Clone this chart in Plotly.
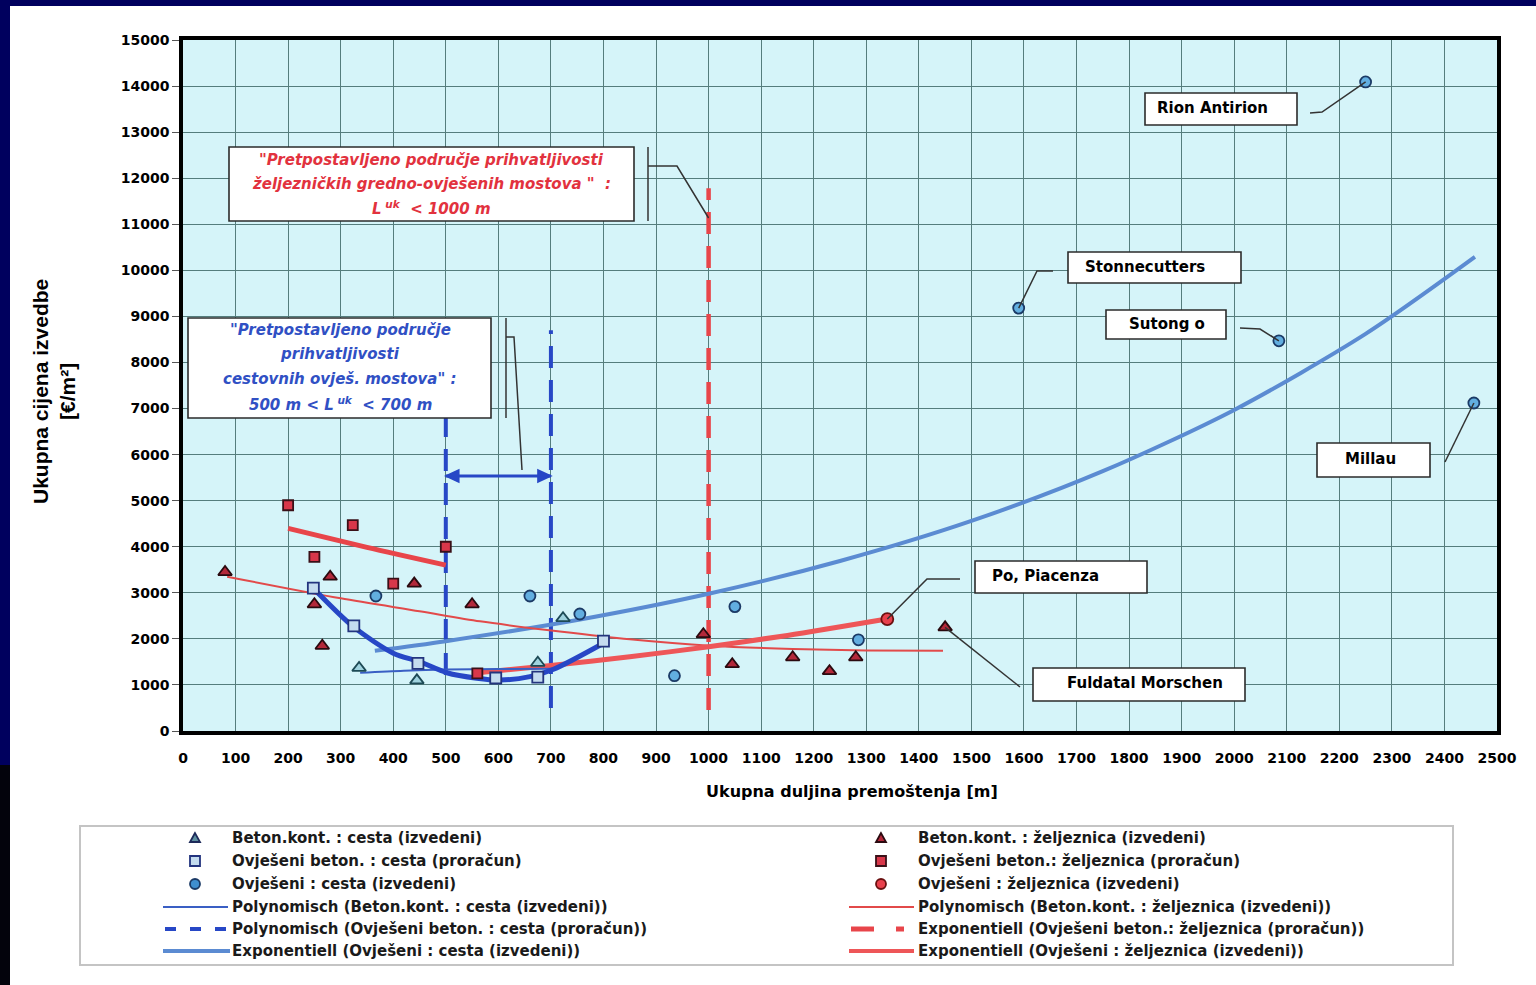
import plotly.graph_objects as go

# ---------------------------------------------------------------- data
# Beton.kont. : cesta (izvedeni)
road_tri_x = [335, 445, 675, 723]
road_tri_y = [1370, 1100, 1480, 2450]
# Ovješeni beton. : cesta (proračun)
road_sq_x = [248, 325, 447, 595, 675, 800]
road_sq_y = [3100, 2280, 1470, 1150, 1170, 1950]
# Ovješeni : cesta (izvedeni)
road_circ_x = [367, 660, 755, 935, 1050, 1285, 1590, 2085, 2250, 2456]
road_circ_y = [2930, 2930, 2540, 1200, 2700, 1980, 9180, 8470, 14090, 7120]

# Beton.kont. : željeznica (izvedeni)
rail_tri_x = [80, 250, 265, 280, 440, 550, 990, 1045, 1160, 1230, 1280, 1450]
rail_tri_y = [3450, 2750, 1850, 3350, 3200, 2750, 2100, 1450, 1600, 1300, 1600, 2250]
# Ovješeni beton.: željeznica (proračun)
rail_sq_x = [200, 250, 323, 400, 500, 560]
rail_sq_y = [4900, 3780, 4470, 3200, 4000, 1250]
# Ovješeni : željeznica (izvedeni)
rail_circ_x = [1340]
rail_circ_y = [2430]

# trend lines
trend_road_tri_x = [337, 420, 500, 600, 703]
trend_road_tri_y = [1265, 1310, 1335, 1345, 1350]
trend_road_sq_x = [248, 324, 400, 451, 502, 559, 603, 660, 705, 800]
trend_road_sq_y = [3100, 2265, 1690, 1500, 1265, 1145, 1105, 1180, 1340, 1905]
trend_road_circ_x = [365, 500, 750, 1000, 1250, 1500, 1750, 2000, 2250, 2458]
trend_road_circ_y = [1740, 1950, 2410, 2980, 3690, 4560, 5640, 6970, 8620, 10290]
trend_rail_tri_x = [84, 300, 450, 565, 717, 850, 1003, 1160, 1300, 1446]
trend_rail_tri_y = [3350, 2880, 2600, 2380, 2160, 1990, 1850, 1780, 1750, 1740]
trend_rail_sq_x = [200, 350, 500]
trend_rail_sq_y = [4400, 3985, 3600]
trend_rail_circ_x = [556, 700, 850, 1000, 1150, 1339]
trend_rail_circ_y = [1260, 1420, 1610, 1830, 2075, 2430]

# acceptance ranges (total length, m)
road_range = [500, 700]
road_range_y = [[1215, 6800], [500, 8700]]
rail_limit = 1000
rail_limit_y = [455, 11780]
arrow_y = 5535

x_ticks = list(range(0, 2501, 100))
y_ticks = list(range(0, 15001, 1000))
X_MAX, Y_MAX = 2500, 15000

# ---------------------------------------------------------------- geometry
W, H = 1536, 985
ML, MR, MT, MB = 183, 39, 40, 254
PW, PH = W - ML - MR, H - MT - MB


def fx(px):
    """figure pixel column -> paper x"""
    return (px - ML) / PW


def fy(py):
    """figure pixel row -> paper y"""
    return (H - MB - py) / PH


def dx(x):
    return x / X_MAX


def dy(y):
    return y / Y_MAX


BLUE_DARK = "#2747c6"
BLUE_THIN = "#3a5fc4"
BLUE_EXP = "#5b8bd2"
RED_THIN = "#e24a4a"
RED_THICK = "#e8454a"
RED_EXP = "#ee5658"
TXT_FONT = "DejaVu Sans, Liberation Sans, Arial, sans-serif"

fig = go.Figure()

# vertical range lines
for xv, (y0, y1) in zip(road_range, road_range_y):
    fig.add_trace(go.Scatter(x=[xv, xv], y=[y0, y1], mode="lines",
                             line=dict(color=BLUE_DARK, width=4, dash="22px,12px"),
                             hoverinfo="skip", showlegend=False))
fig.add_trace(go.Scatter(x=[rail_limit, rail_limit], y=rail_limit_y, mode="lines",
                         line=dict(color=RED_THICK, width=4.5, dash="22px,12px"),
                         hoverinfo="skip", showlegend=False))

# span of the road range (double arrow shaft)
fig.add_trace(go.Scatter(x=road_range, y=[arrow_y, arrow_y], mode="lines",
                         line=dict(color=BLUE_DARK, width=3),
                         hoverinfo="skip", showlegend=False))

# trend lines
trend_specs = [
    (trend_road_circ_x, trend_road_circ_y, BLUE_EXP, 4),
    (trend_rail_tri_x, trend_rail_tri_y, RED_THIN, 2),
    (trend_rail_sq_x, trend_rail_sq_y, RED_THICK, 5),
    (trend_rail_circ_x, trend_rail_circ_y, RED_EXP, 5),
    (trend_road_tri_x, trend_road_tri_y, BLUE_THIN, 2),
    (trend_road_sq_x, trend_road_sq_y, BLUE_DARK, 5),
]
for tx, ty, col, wd in trend_specs:
    fig.add_trace(go.Scatter(x=tx, y=ty, mode="lines",
                             line=dict(color=col, width=wd, shape="spline", smoothing=0.8),
                             hoverinfo="skip", showlegend=False))

# markers
marker_specs = [
    (rail_tri_x, rail_tri_y, "triangle-up", "#b3283a", "#2a0a10", 12),
    (rail_sq_x, rail_sq_y, "square", "#d8374a", "#3a1018", 10),
    (rail_circ_x, rail_circ_y, "circle", "#e8404c", "#6a1010", 12),
    (road_tri_x, road_tri_y, "triangle-up", "#9fd3df", "#1d4a56", 12),
    (road_sq_x, road_sq_y, "square", "#c4dcef", "#23347e", 11),
    (road_circ_x, road_circ_y, "circle", "#62aee0", "#1b3a66", 11),
]
for mx, my, sym, fill, edge, sz in marker_specs:
    fig.add_trace(go.Scatter(x=mx, y=my, mode="markers",
                             marker=dict(symbol=sym, size=sz, color=fill,
                                         line=dict(color=edge, width=1.8)),
                             showlegend=False))

shapes = []
annotations = []

# page frame strips
shapes.append(dict(type="rect", xref="paper", yref="paper", x0=fx(0), x1=fx(10),
                   y0=fy(765), y1=fy(0), fillcolor="#00005e", line_width=0, layer="below"))
shapes.append(dict(type="rect", xref="paper", yref="paper", x0=fx(0), x1=fx(10),
                   y0=fy(985), y1=fy(765), fillcolor="#03030c", line_width=0, layer="below"))
shapes.append(dict(type="rect", xref="paper", yref="paper", x0=fx(0), x1=fx(1536),
                   y0=fy(6), y1=fy(0), fillcolor="#00005e", line_width=0, layer="below"))

EDGE = "#2b2b2b"


def box(px0, py0, px1, py1, width=1.6):
    shapes.append(dict(type="rect", xref="paper", yref="paper",
                       x0=fx(px0), x1=fx(px1), y0=fy(py1), y1=fy(py0),
                       fillcolor="white", line=dict(color=EDGE, width=width), layer="above"))


def poly(points, color="#333333", width=1.5, fill=None):
    path = "M " + " L ".join(f"{x:.6f},{y:.6f}" for x, y in points)
    shp = dict(type="path", xref="paper", yref="paper", path=path,
               line=dict(color=color, width=width), layer="above")
    if fill:
        shp["path"] += " Z"
        shp["fillcolor"] = fill
    shapes.append(shp)


def text(px, py, s, size=15, color="black", anchor="left"):
    annotations.append(dict(xref="paper", yref="paper", x=fx(px), y=fy(py), text=s,
                            showarrow=False, xanchor=anchor, yanchor="middle",
                            font=dict(family=TXT_FONT, size=size, color=color)))


# arrow heads at both ends of the road range
ax0, ax1, ay = dx(road_range[0]), dx(road_range[1]), dy(arrow_y)
hx, hy = 13 / PW, 6 / PH
poly([(ax0, ay), (ax0 + hx, ay + hy), (ax0 + hx, ay - hy)], BLUE_DARK, 1.5, BLUE_DARK)
poly([(ax1, ay), (ax1 - hx, ay + hy), (ax1 - hx, ay - hy)], BLUE_DARK, 1.5, BLUE_DARK)

# acceptance-range callouts
RED_TXT = "#e2323e"
BLUE_TXT = "#3050c4"
box(229, 147, 634, 221)
for yy, s in zip([160, 184, 208], [
        "\"Pretpostavljeno područje prihvatljivosti",
        "željezničkih gredno-ovješenih mostova \"  :",
        "L<sup> uk</sup>  < 1000 m"]):
    text(431, yy, f"<b><i>{s}</i></b>", 15, RED_TXT, "center")
poly([(fx(648), fy(147)), (fx(648), fy(221))])
poly([(fx(648), fy(166)), (fx(677), fy(166)), (dx(rail_limit), fy(218))])

box(188, 318, 491, 418)
for yy, s in zip([330, 354, 379, 404], [
        "\"Pretpostavljeno područje",
        "prihvatljivosti",
        "cestovnih ovješ. mostova\" :",
        "500 m < L<sup> uk</sup>  < 700 m"]):
    text(340, yy, f"<b><i>{s}</i></b>", 15, BLUE_TXT, "center")
poly([(fx(506), fy(318)), (fx(506), fy(418))])
poly([(fx(506), fy(337)), (fx(514), fy(337)), (fx(522), ay + 6 / PH)])

# named bridges
named = [
    ("Rion Antirion", (1145, 93, 1297, 125), 1155, 108,
     [(1310, 113), (1322, 112)], (2250, 14090)),
    ("Stonnecutters", (1068, 252, 1241, 283), 1083, 267,
     [(1053, 271), (1037, 271)], (1590, 9180)),
    ("Sutong o", (1106, 310, 1226, 339), 1127, 324,
     [(1240, 328), (1260, 329)], (2085, 8470)),
    ("Millau", (1317, 443, 1430, 477), 1343, 459,
     [(1445, 462)], (2456, 7120)),
]
for name, (b0, b1, b2, b3), tx, ty, legs, (px_, py_) in named:
    box(b0, b1, b2, b3)
    text(tx, ty, f"<b>{name}</b>", 15)
    poly([(fx(a), fy(b)) for a, b in legs] + [(dx(px_), dy(py_))])

box(975, 561, 1147, 593)
text(990, 576, "<b>Po, Piacenza</b>", 15)
poly([(fx(960), fy(579)), (fx(927), fy(579)), (dx(rail_circ_x[0]), dy(rail_circ_y[0]))])

box(1033, 668, 1245, 701)
text(1065, 683, "<b>Fuldatal Morschen</b>", 15)
poly([(dx(rail_tri_x[-1]), dy(rail_tri_y[-1])), (fx(1020), fy(687))])

# ---------------------------------------------------------------- legend
shapes.append(dict(type="rect", xref="paper", yref="paper", x0=fx(80), x1=fx(1453),
                   y0=fy(965), y1=fy(826), fillcolor="white",
                   line=dict(color="#c4c4c4", width=2), layer="above"))
rows = [838, 861, 884, 907, 929, 951]


def leg_marker(kind, cx, cy, fill, edge, r=5):
    if kind == "triangle":
        p = [(cx, cy - r - 1), (cx - r - 1, cy + r), (cx + r + 1, cy + r)]
        path = "M " + " L ".join(f"{fx(a):.6f},{fy(b):.6f}" for a, b in p) + " Z"
        shapes.append(dict(type="path", xref="paper", yref="paper", path=path,
                           fillcolor=fill, line=dict(color=edge, width=1.8), layer="above"))
    else:
        shapes.append(dict(type="rect" if kind == "square" else "circle",
                           xref="paper", yref="paper",
                           x0=fx(cx - r), x1=fx(cx + r), y0=fy(cy + r), y1=fy(cy - r),
                           fillcolor=fill, line=dict(color=edge, width=1.8), layer="above"))


def leg_line(x0, x1, cy, color, width, dash="solid"):
    shapes.append(dict(type="line", xref="paper", yref="paper", x0=fx(x0), x1=fx(x1),
                       y0=fy(cy), y1=fy(cy), line=dict(color=color, width=width, dash=dash),
                       layer="above"))


left_labels = [
    "Beton.kont. : cesta (izvedeni)",
    "Ovješeni beton. : cesta (proračun)",
    "Ovješeni : cesta (izvedeni)",
    "Polynomisch (Beton.kont. : cesta (izvedeni))",
    "Polynomisch (Ovješeni beton. : cesta (proračun))",
    "Exponentiell (Ovješeni : cesta (izvedeni))",
]
right_labels = [
    "Beton.kont. : željeznica (izvedeni)",
    "Ovješeni beton.: željeznica (proračun)",
    "Ovješeni : željeznica (izvedeni)",
    "Polynomisch (Beton.kont. : željeznica (izvedeni))",
    "Exponentiell (Ovješeni beton.: željeznica (proračun))",
    "Exponentiell (Ovješeni : željeznica (izvedeni))",
]
leg_marker("triangle", 195, rows[0], "#5d8fa0", "#1d2a5a", 4)
leg_marker("square", 195, rows[1], "#c4dcef", "#23347e", 5)
leg_marker("circle", 195, rows[2], "#3f8fd0", "#1b3a66", 5)
leg_line(163, 228, rows[3], BLUE_THIN, 2)
leg_line(165, 228, rows[4], BLUE_DARK, 4, "11px,14px")
leg_line(163, 230, rows[5], BLUE_EXP, 4)
leg_marker("triangle", 881, rows[0], "#b3283a", "#2a0a10", 4)
leg_marker("square", 881, rows[1], "#d8374a", "#3a1018", 5)
leg_marker("circle", 881, rows[2], "#e8404c", "#6a1010", 5)
leg_line(849, 914, rows[3], RED_THIN, 2)
leg_line(851, 874, rows[4], RED_THICK, 5)
leg_line(896, 904, rows[4], RED_THICK, 5)
leg_line(849, 914, rows[5], RED_EXP, 4)
for yy, a, b in zip(rows, left_labels, right_labels):
    text(230, yy, f"<b>{a}</b>", 15, "#1a1a1a")
    text(916, yy, f"<b>{b}</b>", 15, "#1a1a1a")

# axis titles
text(852, 791, "<b>Ukupna duljina premoštenja [m]</b>", 16, "black", "center")
annotations.append(dict(xref="paper", yref="paper", x=fx(54), y=fy(392),
                        text="<b>Ukupna cijena izvedbe<br>[€/m²]</b>", showarrow=False,
                        textangle=-90, xanchor="center", yanchor="middle",
                        font=dict(family="Liberation Sans Narrow, Liberation Sans, Arial",
                                  size=21, color="black")))

GRID = "#557d7d"
fig.update_layout(
    width=W, height=H,
    margin=dict(l=ML, r=MR, t=MT, b=MB, pad=0),
    paper_bgcolor="white",
    plot_bgcolor="#d5f4f9",
    showlegend=False,
    font=dict(family=TXT_FONT, color="black"),
    shapes=shapes,
    annotations=annotations,
    xaxis=dict(range=[0, X_MAX], tickvals=x_ticks, ticktext=[str(v) for v in x_ticks],
               showgrid=True, gridcolor=GRID, gridwidth=1.2, zeroline=False,
               showline=True, linecolor="black", linewidth=3.5, mirror=True,
               ticks="", ticklabelstandoff=11,
               tickfont=dict(size=14, family=TXT_FONT, weight="bold", color="black")),
    yaxis=dict(range=[0, Y_MAX], tickvals=y_ticks, ticktext=[str(v) for v in y_ticks],
               showgrid=True, gridcolor=GRID, gridwidth=1.2, zeroline=False,
               showline=True, linecolor="black", linewidth=3.5, mirror=True,
               ticks="outside", ticklen=7, tickcolor="#555555", tickwidth=1,
               tickfont=dict(size=14, family=TXT_FONT, weight="bold", color="black")),
)

fig.write_html("out.html")
